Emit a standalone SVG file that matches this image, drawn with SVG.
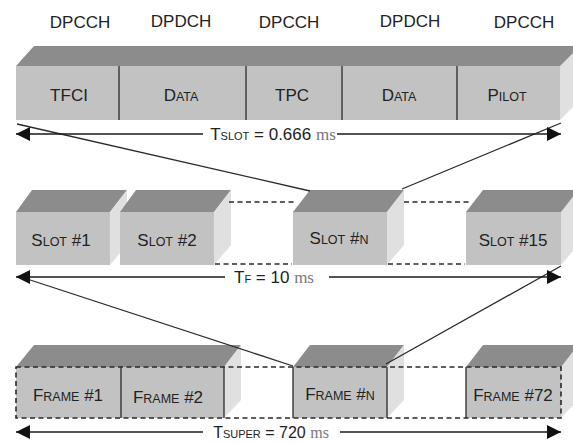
<svg xmlns="http://www.w3.org/2000/svg" width="573" height="443" viewBox="0 0 573 443">
<defs>
<style>
.front{fill:#c2c2c2;}
.top{fill:#8c8c8c;}
.side{fill:#e0e0e0;}
.div{stroke:#2a2a2a;stroke-width:1.3;fill:none;}
.dash{stroke:#2a2a2a;stroke-width:1.6;stroke-dasharray:5,3.5;fill:none;}
.lbl{font-family:"Liberation Sans",Arial,sans-serif;font-size:17px;fill:#222;text-anchor:middle;}
.sc{font-size:12.5px;}
.sub{font-size:11px;}
.ms{font-family:"Liberation Serif","Times New Roman",serif;fill:#777;font-size:17px;}
.conn{stroke:#2a2a2a;stroke-width:1.3;fill:none;}
.dim{stroke:#1a1a1a;stroke-width:1.6;fill:none;}
</style>
<marker id="ah" viewBox="0 0 14 14" refX="14" refY="7" markerWidth="14" markerHeight="14" markerUnits="userSpaceOnUse" orient="auto-start-reverse">
<path d="M0,0 L14,7 L0,14 z" fill="#111"/>
</marker>
</defs>
<rect width="573" height="443" fill="#ffffff"/>

<g id="channel-labels" class="lbl">
<text x="80" y="28">DPCCH</text>
<text x="181" y="27">DPDCH</text>
<text x="289" y="28">DPCCH</text>
<text x="410" y="27">DPDCH</text>
<text x="524" y="28">DPCCH</text>
</g>

<g id="slot-structure">
<polygon class="top" points="16,66 34,46 580,46 562,66"/>
<polygon class="side" points="560,66 580,46 580,100 560,120"/>
<rect class="front" x="16" y="66" width="544" height="54"/>
<line class="div" x1="119" y1="66" x2="119" y2="120"/>
<line class="div" x1="246" y1="66" x2="246" y2="120"/>
<line class="div" x1="342" y1="66" x2="342" y2="120"/>
<line class="div" x1="457" y1="66" x2="457" y2="120"/>
<text class="lbl" x="69" y="101">TFCI</text>
<text class="lbl" x="181" y="101">D<tspan class="sc">ATA</tspan></text>
<text class="lbl" x="292" y="101">TPC</text>
<text class="lbl" x="399" y="101">D<tspan class="sc">ATA</tspan></text>
<text class="lbl" x="507" y="101">P<tspan class="sc">ILOT</tspan></text>
</g>

<g id="slot-1">
<polygon class="top" points="16,212 32,190 127,190 110,212"/>
<polygon class="side" points="110,212 127,190 127,245 110,265"/>
<rect class="front" x="16" y="212" width="94" height="53"/>
<text class="lbl" x="61" y="246">S<tspan class="sc">LOT</tspan> #1</text>
</g>
<g id="slot-2">
<polygon class="top" points="120,212 136,190 231,190 214,212"/>
<polygon class="side" points="214,212 231,190 231,245 214,265"/>
<rect class="front" x="120" y="212" width="94" height="53"/>
<text class="lbl" x="167" y="246">S<tspan class="sc">LOT</tspan> #2</text>
</g>
<g id="slot-n">
<polygon class="top" points="293,212 310,190 404,190 387,212"/>
<polygon class="side" points="387,212 404,190 404,245 387,265"/>
<rect class="front" x="293" y="212" width="94" height="53"/>
<text class="lbl" x="339" y="244">S<tspan class="sc">LOT</tspan> #<tspan class="sc">N</tspan></text>
</g>
<g id="slot-15">
<polygon class="top" points="466,212 483,190 580,190 562,212"/>
<polygon class="side" points="561,212 578,190 578,245 561,265"/>
<rect class="front" x="466" y="212" width="95" height="53"/>
<text class="lbl" x="513" y="246">S<tspan class="sc">LOT</tspan> #15</text>
</g>

<g id="frame-1-2">
<polygon class="top" points="16,367 34,345 241,345 224,367"/>
<polygon class="side" points="224,367 241,345 241,400 224,418"/>
<rect class="front" x="16" y="367" width="208" height="51"/>
<line class="div" x1="121" y1="367" x2="121" y2="418"/>
<line class="div" x1="224" y1="367" x2="224" y2="418"/>
<text class="lbl" x="68" y="401">F<tspan class="sc">RAME</tspan> #1</text>
<text class="lbl" x="168" y="403">F<tspan class="sc">RAME</tspan> #2</text>
</g>
<g id="frame-n">
<polygon class="top" points="293,367 310,345 404,345 387,367"/>
<polygon class="side" points="387,367 404,345 404,400 387,418"/>
<rect class="front" x="293" y="367" width="94" height="51"/>
<line class="div" x1="293" y1="367" x2="293" y2="418"/>
<line class="div" x1="387" y1="367" x2="387" y2="418"/>
<text class="lbl" x="340" y="400">F<tspan class="sc">RAME</tspan> #<tspan class="sc">N</tspan></text>
</g>
<g id="frame-72">
<polygon class="top" points="466,367 483,345 580,345 562,367"/>
<polygon class="side" points="561,367 578,345 578,400 561,418"/>
<rect class="front" x="466" y="367" width="95" height="51"/>
<line class="div" x1="466" y1="367" x2="466" y2="418"/>
<text class="lbl" x="513" y="401">F<tspan class="sc">RAME</tspan> #72</text>
</g>

<g id="connectors">
<line class="dash" x1="229" y1="202" x2="297" y2="202"/>
<line class="dash" x1="215" y1="264" x2="292" y2="264"/>
<line class="dash" x1="404" y1="202" x2="470" y2="202"/>
<line class="dash" x1="388" y1="264" x2="465" y2="264"/>
<rect class="dash" x="16" y="367" width="545" height="51"/>

<line class="conn" x1="17" y1="124" x2="310" y2="191"/>
<line class="conn" x1="561" y1="123" x2="402" y2="189"/>
<line class="conn" x1="18" y1="276" x2="293" y2="366"/>
<line class="conn" x1="561" y1="266" x2="386" y2="364"/>

<line class="dim" x1="16" y1="134" x2="203" y2="134" marker-start="url(#ah)"/>
<line class="dim" x1="337" y1="134" x2="561" y2="134" marker-end="url(#ah)"/>
<line class="dim" x1="16" y1="277" x2="225" y2="277" marker-start="url(#ah)"/>
<line class="dim" x1="329" y1="277" x2="561" y2="277" marker-end="url(#ah)"/>
<line class="dim" x1="16" y1="432" x2="203" y2="432" marker-start="url(#ah)"/>
<line class="dim" x1="340" y1="432" x2="561" y2="432" marker-end="url(#ah)"/>
</g>

<g id="dimension-labels" class="lbl">
<text x="273" y="140">T<tspan class="sub">SLOT</tspan> = 0.666 <tspan class="ms">ms</tspan></text>
<text x="274" y="283">T<tspan class="sub">F</tspan> = 10 <tspan class="ms">ms</tspan></text>
<text x="271" y="438" style="font-size:16px">T<tspan class="sub">SUPER</tspan> = 720 <tspan class="ms" style="font-size:16px">ms</tspan></text>
</g>
</svg>
